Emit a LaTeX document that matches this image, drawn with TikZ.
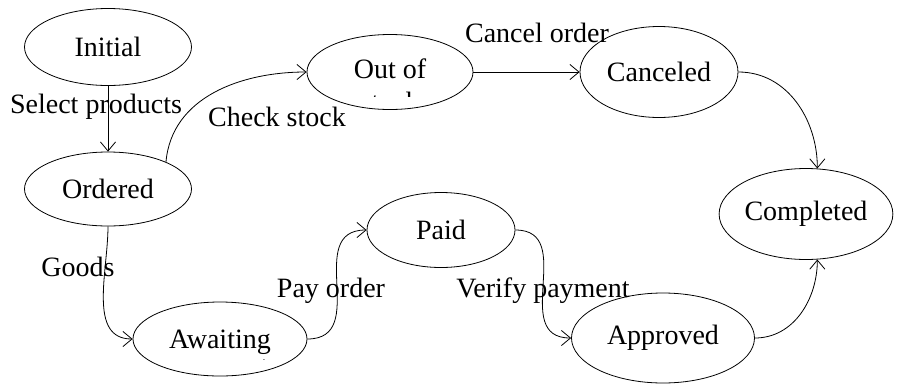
\documentclass[tikz,border=0pt]{standalone}
\usepackage{fontspec}
\setmainfont{Liberation Serif}
\usetikzlibrary{arrows.meta,shapes.geometric}
\tikzset{
  state/.style={ellipse,draw=black,line width=0.6pt,inner sep=0pt,align=center,
                font=\fontsize{21}{25}\selectfont},
  size/.style 2 args={minimum width=#1*.75pt,minimum height=#2*.75pt},
  trans/.style={-{Straight Barb[length=2.4mm,width=4mm]},line width=0.6pt},
  translabel/.style={font=\fontsize{21}{25}\selectfont,inner sep=0pt},
}

\begin{document}
\begin{tikzpicture}[x=.75pt,y=-.75pt]
    \useasboundingbox (0,0) rectangle (901,383);
    % the states
    \node[state,size={167}{77}] (initial) at (108,47) {Initial};
    \node[state,size={167}{74}] (ordered) at (108,189) {Ordered};
    \node[state,size={166}{75}] (outof) at (390,72) {};
    \node[translabel,anchor=base] (outofline) at (390,78) {Out of};
    \begin{scope}
      \clip (330,91) rectangle (450,96);% second line cut off by the box
      \node[translabel,anchor=base] (stockline) at (390,111) {stock};
    \end{scope}
    \node[state,size={158}{91}] (canceled) at (659,72) {Canceled};
    \node[state,size={168}{91}] (completed) at (806,214) {Completed};
    \node[state,size={148}{75}] (paid) at (441,230) {Paid};
    \node[state,size={174}{74}] (awaiting) at (220,339) {};
    \node[translabel,anchor=base] (awaitingline) at (220,348) {Awaiting};
    \begin{scope}
      \clip (150,357) rectangle (290,359.8);
      \node[translabel,anchor=base] (paymentline) at (220,375) {payment};
    \end{scope}
    \node[state,size={183}{90}] (approved) at (663,338) {Approved};

    % transitions
    \draw[trans] (initial.south) -- (ordered.north);
    \draw[trans] (ordered.25) to[out=85,in=180] (outof.west);
    \draw[trans] (outof.east) -- (canceled.west);
    \draw[trans] (canceled.east) to[out=0,in=90] (completed.76);
    \draw[trans] (ordered.south) to[out=-90,in=180] (awaiting.west);
    \draw[trans] (awaiting.east) to[out=0,in=180,looseness=1.3] (paid.west);
    \draw[trans] (paid.east) to[out=0,in=180,looseness=1.3] (approved.west);
    \draw[trans] (approved.east) to[out=0,in=-90] (completed.-76);

    % labels
    \node[translabel] (selectlbl) at (96,107) {Select products};
    \node[translabel] (checklbl) at (277,117) {Check stock};
    \node[translabel] (cancellbl) at (537,33) {Cancel order};
    \node[translabel] (goodslbl) at (78,267) {Goods};
    \node[translabel] (paylbl) at (331,291) {Pay order};
    \node[translabel] (verifylbl) at (543,291) {Verify payment};
  \end{tikzpicture}
\end{document}
